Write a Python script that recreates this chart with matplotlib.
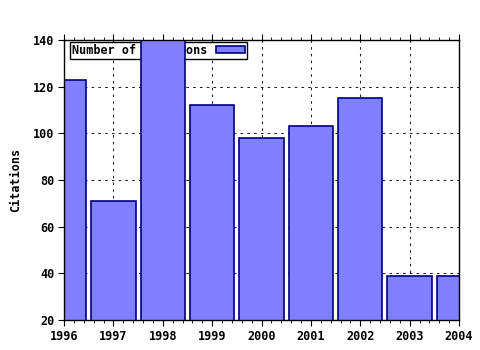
import matplotlib
matplotlib.use("Agg")
import matplotlib.pyplot as plt
from matplotlib.ticker import MultipleLocator

# data
years = [1996, 1997, 1998, 1999, 2000, 2001, 2002, 2003, 2004]
citations = [123, 71, 142, 112, 98, 103, 115, 39, 39]
series_label = "Number of Citations"

plt.rcParams["font.family"] = ["DejaVu Sans Mono"]
plt.rcParams["font.weight"] = "bold"
plt.rcParams["font.size"] = 8.5

fig = plt.figure(figsize=(4.8, 3.5), dpi=100)
ax = fig.add_axes([64 / 480, 1 - 320 / 350, 395 / 480, 280 / 350])

ax.bar(years, citations, width=0.9, color="#8080ff", edgecolor="#000080",
       linewidth=1.2, label=series_label, zorder=2)

ax.set_xlim(1996, 2004)
ax.set_ylim(20, 140)
ax.xaxis.set_major_locator(MultipleLocator(1))
ax.xaxis.set_minor_locator(MultipleLocator(0.2))
ax.yaxis.set_major_locator(MultipleLocator(20))
ax.set_axisbelow(True)
ax.grid(True, which="major", color="#222222", linestyle=(0, (2.5, 4)), linewidth=0.75)

ax.tick_params(axis="x", which="both", direction="out", top=True, pad=3)
ax.tick_params(axis="x", which="major", length=4)
ax.tick_params(axis="x", which="minor", length=2.5)
ax.tick_params(axis="y", which="major", direction="out", length=4, pad=3)
for t in ax.get_xticklabels() + ax.get_yticklabels():
    t.set_fontweight("bold")

for sp in ax.spines.values():
    sp.set_linewidth(1.0)
    sp.set_zorder(3)

ax.set_ylabel("Citations", fontweight="bold", labelpad=8)

# legend sits under the bars, like the reference
leg = ax.legend(loc="upper left", bbox_to_anchor=(0.015, 0.992), markerfirst=False,
                frameon=True, fancybox=False, framealpha=1, edgecolor="black",
                borderpad=0.15, handlelength=2.5, handleheight=0.5,
                handletextpad=0.75, borderaxespad=0)
leg.get_frame().set_linewidth(1.0)
leg.set_zorder(1.5)

fig.savefig("out.png", dpi=100)
